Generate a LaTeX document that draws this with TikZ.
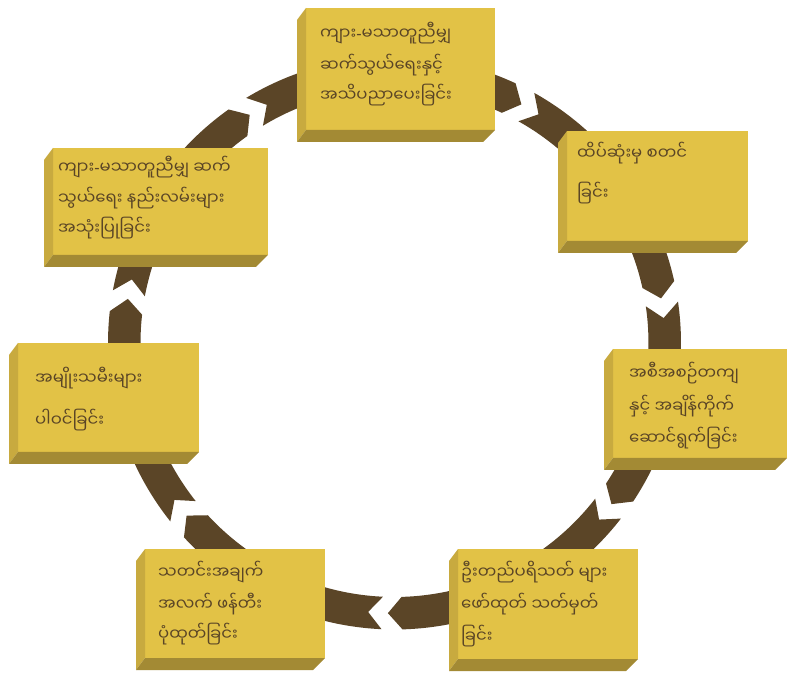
\documentclass[tikz,border=0pt]{standalone}
\usepackage{fontspec}
\newfontfamily\mya[Script=Myanmar]{Noto Sans Myanmar UI}
\newfontfamily\latn{Noto Sans}
\usetikzlibrary{calc}
\definecolor{ringc}{HTML}{5B4527}
\definecolor{facec}{HTML}{E2C246}
\definecolor{sidec}{HTML}{C8AA3F}
\definecolor{botc}{HTML}{A38A34}
\definecolor{textc}{HTML}{5A4526}
\def\Ro{286.5}
\def\Ri{254}
\def\Rm{270.25}
\newcommand\hy{{\latn -}}
\newcommand\ringarrow[2]{%
  \fill[ringc] ({#1+0.9}:\Ro) arc[start angle={#1+0.9}, end angle={#2+5.1}, radius=\Ro]
    -- ({#2+2.1}:\Rm) -- ({#2+5.1}:\Ri)
    arc[start angle={#2+5.1}, end angle={#1+0.9}, radius=\Ri]
    -- ({#1-2.1}:\Rm) -- cycle;}
\newcommand\bevelbox[1]{%
  \fill[sidec] (#1.north west) -- (#1.south west) -- ++(-9,-12) -- ($(#1.north west)+(-9,-12)$) -- cycle;
  \fill[botc] (#1.south west) -- (#1.south east) -- ++(-12,-12) -- ($(#1.south west)+(-9,-12)$) -- cycle;}
\tikzset{
  face/.style={fill=facec, inner sep=0pt, outer sep=0pt, anchor=north west},
  txt/.style={anchor=base west, inner sep=0pt, text=textc, font=\mya\fontsize{16.5}{20}\selectfont}
}
\begin{document}
\begin{tikzpicture}[x=1pt,y=1pt]
\useasboundingbox (0,0) rectangle (787,675);
\begin{scope}[shift={(394.5,332)}]
  \ringarrow{120.3}{59.9}
  \ringarrow{59.9}{7.4}
  \ringarrow{7.4}{-38.7}
  \ringarrow{-38.7}{-93.5}
  \ringarrow{-93.5}{-142.4}
  \ringarrow{-142.4}{-191.5}
  \ringarrow{-191.5}{-239.7}
\end{scope}
% boxes
\node[face, minimum width=189, minimum height=122] (b1) at (306,667) {};
\bevelbox{b1}
\node[face, minimum width=181, minimum height=110] (b2) at (567,544) {};
\bevelbox{b2}
\node[face, minimum width=215, minimum height=107] (b3) at (53,527) {};
\bevelbox{b3}
\node[face, minimum width=174, minimum height=109] (b4) at (613,326) {};
\bevelbox{b4}
\node[face, minimum width=181, minimum height=109] (b5) at (18,332) {};
\bevelbox{b5}
\node[face, minimum width=180, minimum height=109] (b6) at (145,126) {};
\bevelbox{b6}
\node[face, minimum width=180, minimum height=110] (b7) at (458,126) {};
\bevelbox{b7}
% texts
\node[txt] (t1a) at (320,635) {ကျား\hy မသာတူညီမျှ};
\node[txt] (t1b) at (320,603) {ဆက်သွယ်ရေးနှင့်};
\node[txt] (t1c) at (320,573) {အသိပညာပေးခြင်း};
\node[txt] (t2a) at (577,515) {ထိပ်ဆုံးမှ စတင်};
\node[txt] (t2b) at (577,475) {ခြင်း};
\node[txt] (t3a) at (58,501) {ကျား\hy မသာတူညီမျှ ဆက်};
\node[txt] (t3b) at (58,470) {သွယ်ရေး နည်းလမ်းများ};
\node[txt] (t3c) at (58,440) {အသုံးပြုခြင်း};
\node[txt] (t4a) at (629,295) {အစီအစဉ်တကျ};
\node[txt] (t4b) at (629,262) {နှင့် အချိန်ကိုက်};
\node[txt] (t4c) at (629,230) {ဆောင်ရွက်ခြင်း};
\node[txt] (t5a) at (35,290) {အမျိုးသမီးများ};
\node[txt] (t5b) at (35,248) {ပါဝင်ခြင်း};
\node[txt] (t6a) at (158,97) {သတင်းအချက်};
\node[txt] (t6b) at (158,65) {အလက် ဖန်တီး};
\node[txt] (t6c) at (158,35) {ပုံထုတ်ခြင်း};
\node[txt] (t7a) at (461,97) {ဦးတည်ပရိသတ် များ};
\node[txt] (t7b) at (461,65) {ဖော်ထုတ် သတ်မှတ်};
\node[txt] (t7c) at (461,33) {ခြင်း};
\end{tikzpicture}
\end{document}
